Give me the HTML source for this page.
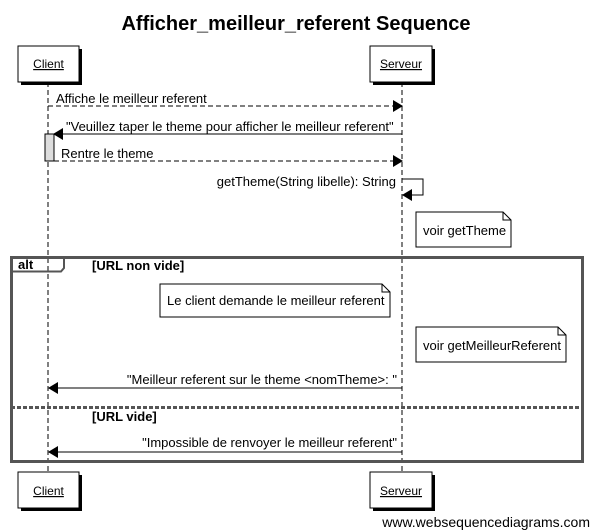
<!DOCTYPE html>
<html><head><meta charset="utf-8"><style>
html,body{margin:0;padding:0;background:#fff;}
svg{display:block;font-family:"Liberation Sans",Arial,sans-serif;}
</style></head><body>
<svg width="592" height="530" viewBox="0 0 592 530" xmlns="http://www.w3.org/2000/svg">
<defs>
<marker id="ah" markerWidth="10" markerHeight="12" refX="9" refY="6" orient="auto" markerUnits="userSpaceOnUse">
<path d="M0,0 L10,6 L0,12 z" fill="#000"/></marker>
</defs>
<text x="296" y="30" font-size="20" font-weight="bold" text-anchor="middle">Afficher_meilleur_referent Sequence</text>
<line x1="48" y1="82" x2="48" y2="472" stroke="#000" stroke-dasharray="5,3"/>
<line x1="402" y1="82" x2="402" y2="472" stroke="#000" stroke-dasharray="5,3"/>
<rect x="21" y="49" width="61" height="36" fill="#000"/>
<rect x="18" y="46" width="61" height="36" fill="#fff" stroke="#000"/>
<text x="48.5" y="68" font-size="12" text-anchor="middle" text-decoration="underline">Client</text>
<rect x="373" y="49" width="62" height="36" fill="#000"/>
<rect x="370" y="46" width="62" height="36" fill="#fff" stroke="#000"/>
<text x="401" y="68" font-size="12" text-anchor="middle" text-decoration="underline">Serveur</text>
<rect x="21" y="475" width="61" height="36" fill="#000"/>
<rect x="18" y="472" width="61" height="36" fill="#fff" stroke="#000"/>
<text x="48.5" y="495" font-size="12" text-anchor="middle" text-decoration="underline">Client</text>
<rect x="373" y="475" width="62" height="36" fill="#000"/>
<rect x="370" y="472" width="62" height="36" fill="#fff" stroke="#000"/>
<text x="401" y="495" font-size="12" text-anchor="middle" text-decoration="underline">Serveur</text>
<rect x="45" y="134" width="9" height="27" fill="#ddd" stroke="#000"/>
<g font-size="13">
<text x="56" y="103">Affiche le meilleur referent</text>
<text x="66" y="131">"Veuillez taper le theme pour afficher le meilleur referent"</text>
<text x="61" y="158">Rentre le theme</text>
<text x="396" y="186" text-anchor="end">getTheme(String libelle): String</text>
<text x="423" y="235">voir getTheme</text>
<text x="167" y="305">Le client demande le meilleur referent</text>
<text x="423" y="350">voir getMeilleurReferent</text>
<text x="397" y="384" text-anchor="end">"Meilleur referent sur le theme &lt;nomTheme&gt;: "</text>
<text x="397" y="447" text-anchor="end">"Impossible de renvoyer le meilleur referent"</text>
<text x="18" y="269" font-weight="bold">alt</text>
<text x="92" y="270" font-weight="bold">[URL non vide]</text>
<text x="92" y="421" font-weight="bold">[URL vide]</text>
</g>
<line x1="48" y1="106" x2="402" y2="106" stroke="#000" stroke-dasharray="5,3" marker-end="url(#ah)"/>
<line x1="402" y1="134" x2="54" y2="134" stroke="#000" marker-end="url(#ah)"/>
<line x1="54" y1="161" x2="402" y2="161" stroke="#000" stroke-dasharray="5,3" marker-end="url(#ah)"/>
<polyline points="402,179 423,179 423,195 403,195" fill="none" stroke="#000" marker-end="url(#ah)"/>
<path d="M416,212 L503,212 L511,220 L511,247 L416,247 z" fill="none" stroke="#000"/>
<path d="M503,212 L503,220 L511,220" fill="none" stroke="#000"/>
<rect x="11.5" y="257.5" width="571" height="204" fill="none" stroke="#555" stroke-width="3"/>
<path d="M11.5,271.5 L61,271.5 L64,268 L64,257.5" fill="none" stroke="#555" stroke-width="2"/>
<path d="M160,284 L382,284 L390,292 L390,317 L160,317 z" fill="none" stroke="#000"/>
<path d="M382,284 L382,292 L390,292" fill="none" stroke="#000"/>
<path d="M416,327 L558,327 L566,335 L566,362 L416,362 z" fill="none" stroke="#000"/>
<path d="M558,327 L558,335 L566,335" fill="none" stroke="#000"/>
<line x1="402" y1="388" x2="49" y2="388" stroke="#000" marker-end="url(#ah)"/>
<line x1="11" y1="407.5" x2="583" y2="407.5" stroke="#555" stroke-width="3" stroke-dasharray="4,2"/>
<line x1="402" y1="452" x2="49" y2="452" stroke="#000" marker-end="url(#ah)"/>
<text x="590" y="527" font-size="14" text-anchor="end">www.websequencediagrams.com</text>
</svg>
</body></html>
